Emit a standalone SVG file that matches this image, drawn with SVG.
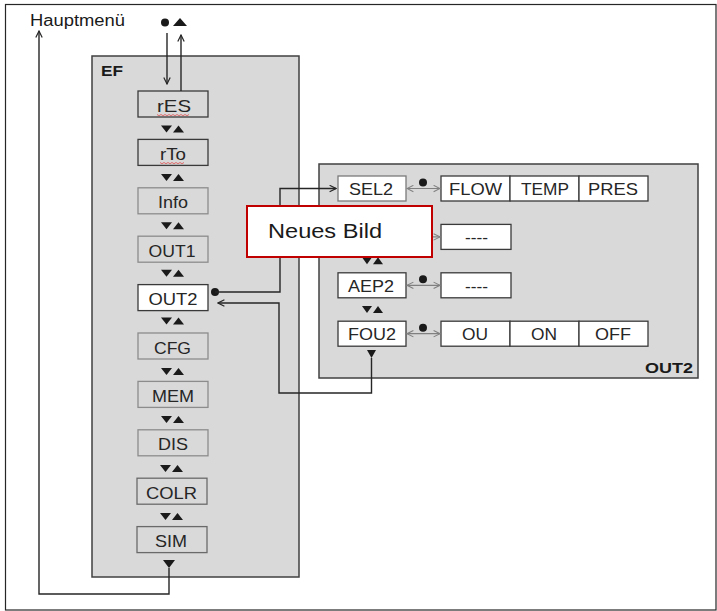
<svg xmlns="http://www.w3.org/2000/svg" width="717" height="611" viewBox="0 0 717 611">
<defs>
<style>
.panel{fill:#d9d9d9;stroke:#404040;stroke-width:1.5}
.box{fill:#d9d9d9;stroke:#3a3a3a;stroke-width:1.3}
.boxl{fill:#d9d9d9;stroke:#8c8c8c;stroke-width:1.3}
.boxm{fill:#d9d9d9;stroke:#6a6a6a;stroke-width:1.3}
.boxw{fill:#ffffff;stroke:#3a3a3a;stroke-width:1.3}
.boxg{fill:#ffffff;stroke:#7a7a7a;stroke-width:1.3}
.lbl{font-family:"Liberation Sans",Arial,sans-serif;font-size:17px;fill:#262626;text-anchor:middle}
.bold{font-family:"Liberation Sans",Arial,sans-serif;font-size:14px;font-weight:bold;fill:#1a1a1a}
.tri{fill:#1a1a1a}
.wire{fill:none;stroke:#262626;stroke-width:1.4}
.gwire{fill:none;stroke:#808080;stroke-width:1.2}
.squig{fill:none;stroke:#e05050;stroke-width:0.8}
</style>
<marker id="ah" viewBox="0 0 10 10" refX="9" refY="5" markerWidth="8" markerHeight="8" markerUnits="userSpaceOnUse" orient="auto-start-reverse">
<path d="M1,1 L9,5 L1,9" fill="none" stroke="#262626" stroke-width="1.5"/>
</marker>
<marker id="gah" viewBox="0 0 10 10" refX="9" refY="5" markerWidth="8" markerHeight="8" markerUnits="userSpaceOnUse" orient="auto-start-reverse">
<path d="M1,1 L9,5 L1,9" fill="none" stroke="#808080" stroke-width="1.3"/>
</marker>
</defs>

<rect x="5.5" y="4.5" width="710.5" height="605.5" fill="#ffffff" stroke="#262626" stroke-width="1.2"/>

<g id="hauptmenu">
<text x="30" y="26" font-family="Liberation Sans, Arial, sans-serif" font-size="16" fill="#1a1a1a" textLength="95" lengthAdjust="spacingAndGlyphs">Hauptmenü</text>
<circle cx="165" cy="22.5" r="4" fill="#1a1a1a"/>
<polygon points="173,26 187,26 180,18" class="tri"/>
</g>

<g id="panel-EF">
<rect x="92" y="56" width="207" height="521" class="panel"/>
<text x="101" y="76" class="bold" textLength="22" lengthAdjust="spacingAndGlyphs">EF</text>
</g>

<g id="panel-OUT2">
<rect x="319" y="164" width="379" height="214" class="panel"/>
<text x="645" y="373" class="bold" textLength="48" lengthAdjust="spacingAndGlyphs">OUT2</text>
</g>

<g id="node-rES">
<rect x="138" y="91" width="70" height="26" class="box"/>
<text x="174" y="111.5" class="lbl" textLength="34" lengthAdjust="spacingAndGlyphs">rES</text>
<path d="M157,114.5 l2,1.2 l2,-1.2 l2,1.2 l2,-1.2 l2,1.2 l2,-1.2 l2,1.2 l2,-1.2 l2,1.2 l2,-1.2 l2,1.2 l2,-1.2 l2,1.2 l2,-1.2 l2,1.2 l2,-1.2" class="squig"/>
</g>
<g id="node-rTo">
<rect x="138" y="139.4" width="70" height="26" class="box"/>
<text x="173" y="159.9" class="lbl" textLength="26" lengthAdjust="spacingAndGlyphs">rTo</text>
<path d="M160,162.5 l2,1.2 l2,-1.2 l2,1.2 l2,-1.2 l2,1.2 l2,-1.2 l2,1.2 l2,-1.2 l2,1.2 l2,-1.2 l2,1.2 l2,-1.2" class="squig"/>
</g>
<g id="node-Info">
<rect x="138" y="187.8" width="70" height="26" class="boxl"/>
<text x="173" y="208.3" class="lbl" textLength="30" lengthAdjust="spacingAndGlyphs">Info</text>
</g>
<g id="node-OUT1">
<rect x="138" y="236.2" width="70" height="26" class="boxl"/>
<text x="172" y="256.7" class="lbl" textLength="47" lengthAdjust="spacingAndGlyphs">OUT1</text>
</g>
<g id="node-OUT2">
<rect x="138" y="284.6" width="70" height="26" class="boxw"/>
<text x="173" y="305.1" class="lbl" textLength="49" lengthAdjust="spacingAndGlyphs">OUT2</text>
</g>
<g id="node-CFG">
<rect x="138" y="333" width="70" height="26" class="boxl"/>
<text x="172.5" y="353.5" class="lbl" textLength="37" lengthAdjust="spacingAndGlyphs">CFG</text>
</g>
<g id="node-MEM">
<rect x="138" y="381.4" width="70" height="26" class="boxl"/>
<text x="173" y="401.9" class="lbl" textLength="42" lengthAdjust="spacingAndGlyphs">MEM</text>
</g>
<g id="node-DIS">
<rect x="138" y="429.8" width="70" height="26" class="boxl"/>
<text x="173" y="450.3" class="lbl" textLength="30" lengthAdjust="spacingAndGlyphs">DIS</text>
</g>
<g id="node-COLR">
<rect x="137" y="478.2" width="70" height="26" class="boxm"/>
<text x="171.5" y="498.7" class="lbl" textLength="51" lengthAdjust="spacingAndGlyphs">COLR</text>
</g>
<g id="node-SIM">
<rect x="137" y="526.6" width="70" height="26" class="boxm"/>
<text x="171" y="547.1" class="lbl" textLength="32" lengthAdjust="spacingAndGlyphs">SIM</text>
</g>

<g id="ef-nav-triangles" class="tri">
<polygon points="161,125.5 172,125.5 166.5,132.5"/><polygon points="173,132.5 184,132.5 178.5,125.5"/>
<polygon points="161,173.9 172,173.9 166.5,180.9"/><polygon points="173,180.9 184,180.9 178.5,173.9"/>
<polygon points="161,222.3 172,222.3 166.5,229.3"/><polygon points="173,229.3 184,229.3 178.5,222.3"/>
<polygon points="161,269.7 172,269.7 166.5,276.7"/><polygon points="173,276.7 184,276.7 178.5,269.7"/>
<polygon points="161,317.5 172,317.5 166.5,324.5"/><polygon points="173,324.5 184,324.5 178.5,317.5"/>
<polygon points="161,368 172,368 166.5,375"/><polygon points="173,375 184,375 178.5,368"/>
<polygon points="161,416 172,416 166.5,423"/><polygon points="173,423 184,423 178.5,416"/>
<polygon points="160,465 171,465 165.5,472"/><polygon points="172,472 183,472 177.5,465"/>
<polygon points="160,513 171,513 165.5,520"/><polygon points="172,520 183,520 177.5,513"/>
<polygon points="163,560 175,560 169,568"/>
</g>

<g id="node-SEL2">
<rect x="338" y="176" width="68" height="25" class="boxg"/>
<text x="371" y="195" class="lbl" textLength="44" lengthAdjust="spacingAndGlyphs">SEL2</text>
</g>
<g id="node-SEL2-values">
<rect x="441" y="176" width="69" height="25" class="boxw"/>
<rect x="510" y="176" width="69" height="25" class="boxw"/>
<rect x="579" y="176" width="69" height="25" class="boxw"/>
<text x="475.5" y="195" class="lbl" textLength="53" lengthAdjust="spacingAndGlyphs">FLOW</text>
<text x="545" y="195" class="lbl" textLength="48" lengthAdjust="spacingAndGlyphs">TEMP</text>
<text x="613" y="195" class="lbl" textLength="50" lengthAdjust="spacingAndGlyphs">PRES</text>
</g>
<g id="node-row2-value">
<rect x="441" y="224.4" width="70" height="25" class="boxw"/>
<text x="476.5" y="243.4" class="lbl" textLength="23" lengthAdjust="spacingAndGlyphs">----</text>
</g>
<g id="node-AEP2">
<rect x="338" y="272.8" width="68" height="25" class="boxw"/>
<text x="371" y="291.8" class="lbl" textLength="46" lengthAdjust="spacingAndGlyphs">AEP2</text>
</g>
<g id="node-AEP2-value">
<rect x="441" y="272.8" width="70" height="25" class="boxw"/>
<text x="476.5" y="291.8" class="lbl" textLength="23" lengthAdjust="spacingAndGlyphs">----</text>
</g>
<g id="node-FOU2">
<rect x="338" y="321.2" width="68" height="25" class="boxw"/>
<text x="372" y="340.2" class="lbl" textLength="48" lengthAdjust="spacingAndGlyphs">FOU2</text>
</g>
<g id="node-FOU2-values">
<rect x="441" y="321.2" width="69" height="25" class="boxw"/>
<rect x="510" y="321.2" width="69" height="25" class="boxw"/>
<rect x="579" y="321.2" width="69" height="25" class="boxw"/>
<text x="475" y="340.2" class="lbl" textLength="26" lengthAdjust="spacingAndGlyphs">OU</text>
<text x="544" y="340.2" class="lbl" textLength="26" lengthAdjust="spacingAndGlyphs">ON</text>
<text x="613" y="340.2" class="lbl" textLength="36" lengthAdjust="spacingAndGlyphs">OFF</text>
</g>

<g id="out2-nav-triangles" class="tri">
<polygon points="362,209.2 372,209.2 367,216.2"/><polygon points="373,216.2 383,216.2 378,209.2"/>
<polygon points="362,257.2 372,257.2 367,264.2"/><polygon points="373,264.2 383,264.2 378,257.2"/>
<polygon points="362,306 372,306 367,313"/><polygon points="373,313 383,313 378,306"/>
<polygon points="367,350 376,350 371.5,358"/>
</g>

<g id="connectors">
<line x1="167" y1="33" x2="167" y2="84" class="wire" marker-end="url(#ah)"/>
<line x1="181" y1="91" x2="181" y2="35" class="wire" marker-end="url(#ah)"/>
<polyline points="169,568 169,594 39,594 39,31" class="wire" marker-end="url(#ah)"/>
<circle cx="215" cy="292" r="4" fill="#1a1a1a"/>
<polyline points="215,292 280,292 280,188.5 336,188.5" class="wire" marker-end="url(#ah)"/>
<polyline points="371.5,358 371.5,393 279,393 279,303 218,303" class="wire" marker-end="url(#ah)"/>

<line x1="407" y1="188.5" x2="440" y2="188.5" class="gwire" marker-start="url(#gah)" marker-end="url(#gah)"/>
<circle cx="423" cy="182.5" r="4" fill="#1a1a1a"/>
<line x1="407" y1="236.9" x2="440" y2="236.9" class="gwire" marker-start="url(#gah)" marker-end="url(#gah)"/>
<circle cx="423" cy="230.9" r="4" fill="#1a1a1a"/>
<line x1="407" y1="285.3" x2="440" y2="285.3" class="gwire" marker-start="url(#gah)" marker-end="url(#gah)"/>
<circle cx="423" cy="279.3" r="4" fill="#1a1a1a"/>
<line x1="407" y1="333.7" x2="440" y2="333.7" class="gwire" marker-start="url(#gah)" marker-end="url(#gah)"/>
<circle cx="423" cy="327.7" r="4" fill="#1a1a1a"/>
</g>

<g id="callout-neues-bild">
<rect x="247" y="206" width="185" height="51" fill="#ffffff" stroke="#c00000" stroke-width="2"/>
<text x="268" y="238" font-family="Liberation Sans, Arial, sans-serif" font-size="19.5" fill="#1a1a1a" textLength="114" lengthAdjust="spacingAndGlyphs">Neues Bild</text>
</g>
</svg>
